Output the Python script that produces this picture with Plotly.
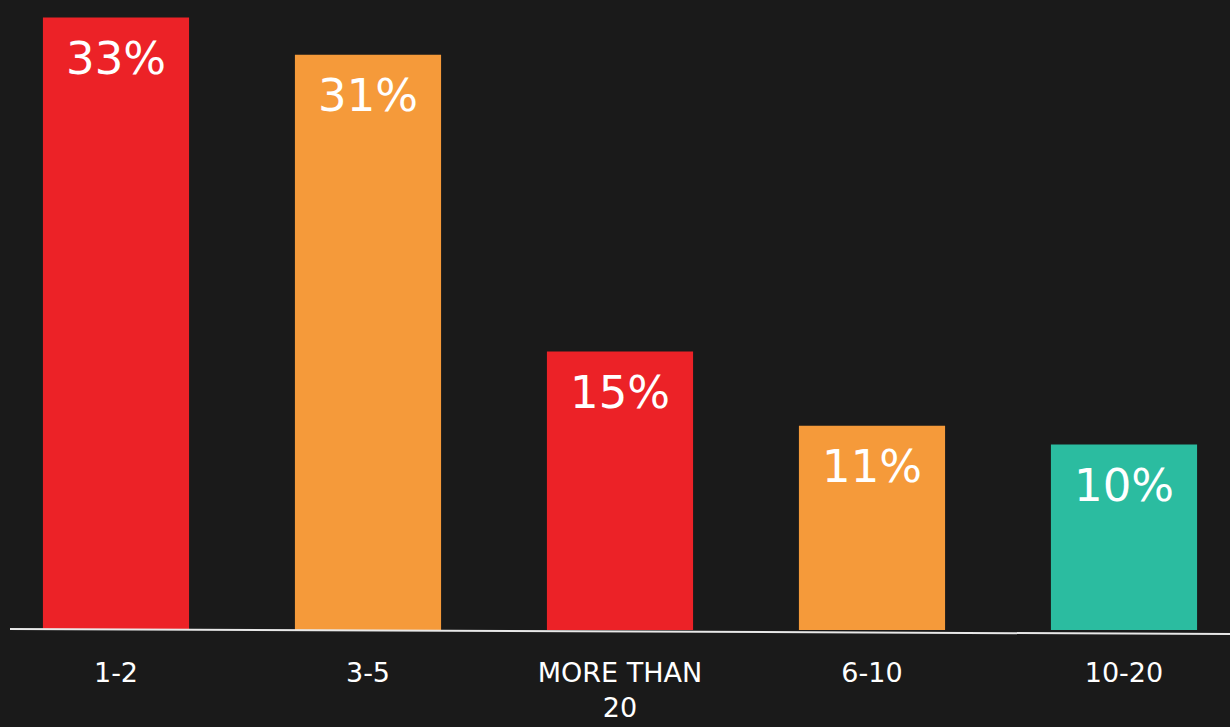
import plotly.graph_objects as go

# Survey answer buckets and their shares (percent)
categories = ["1-2", "3-5", "MORE THAN<br>20", "6-10", "10-20"]
shares = [33, 31, 15, 11, 10]
bar_colors = ["#EC2227", "#F59A3A", "#EC2227", "#F59A3A", "#2BBCA0"]

BG = "#1a1a1a"
FONT = "DejaVu Sans, Verdana, sans-serif"

fig = go.Figure(
    go.Bar(
        x=categories,
        y=shares,
        marker=dict(color=bar_colors, line=dict(width=0)),
        width=0.58,
        hoverinfo="skip",
    )
)

# Percentage labels sitting just inside the top of each bar
for cat, val in zip(categories, shares):
    fig.add_annotation(
        x=cat,
        y=val,
        text=f"{val}%",
        showarrow=False,
        yanchor="middle",
        yshift=-41,
        font=dict(family=FONT, size=45, color="white"),
    )

# Slightly sloping baseline under the bars
fig.add_shape(
    type="line",
    xref="paper",
    yref="paper",
    x0=10 / 1230,
    x1=1.0,
    y0=1 / 630,
    y1=-4 / 630,
    line=dict(color="#e8e8e8", width=2),
    layer="above",
)

fig.update_layout(
    width=1230,
    height=727,
    paper_bgcolor=BG,
    plot_bgcolor=BG,
    margin=dict(l=0, r=0, t=0, b=97, autoexpand=False),
    showlegend=False,
    bargap=0.42,
    xaxis=dict(
        range=[-116 / 252, (1230 - 116) / 252],
        automargin=False,
        showgrid=False,
        zeroline=False,
        showline=False,
        ticks="",
        ticklabelstandoff=24,
        tickfont=dict(family=FONT, size=27, color="white"),
        fixedrange=True,
    ),
    yaxis=dict(
        range=[0, 630 / 18.56],
        visible=False,
        automargin=False,
        showgrid=False,
        zeroline=False,
        fixedrange=True,
    ),
)

fig.write_html("out.html")
